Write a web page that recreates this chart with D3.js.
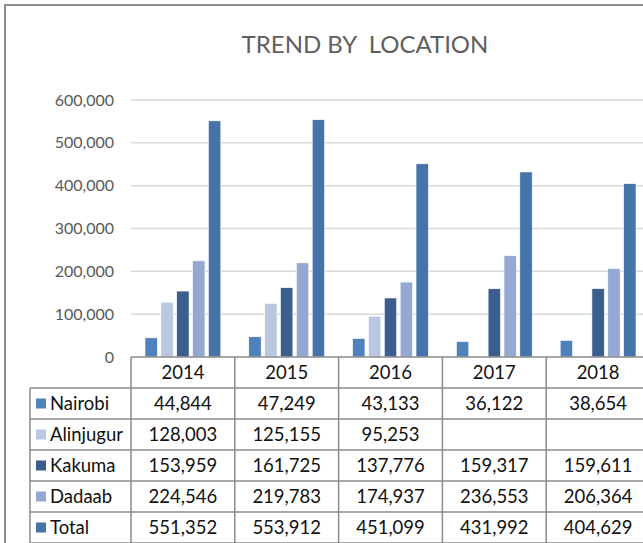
<!DOCTYPE html>
<html>
<head>
<meta charset="utf-8">
<script src="https://cdn.jsdelivr.net/npm/d3@7"></script>
<style>
  body { margin: 0; background: #fff; overflow: hidden; }
  svg { display: block; font-family: Lato, "Open Sans", sans-serif; }
</style>
</head>
<body>
<div id="chart"></div>
<script>
// data
let years = ["2014", "2015", "2016", "2017", "2018"]
let locations = ["Nairobi", "Alinjugur", "Kakuma", "Dadaab", "Total"]
let nairobi = [44844, 47249, 43133, 36122, 38654]
let alinjugur = [128003, 125155, 95253, null, null]
let kakuma = [153959, 161725, 137776, 159317, 159611]
let dadaab = [224546, 219783, 174937, 236553, 206364]
let total = [551352, 553912, 451099, 431992, 404629]
let yTicks = [0, 100000, 200000, 300000, 400000, 500000, 600000]

let seriesValues = [nairobi, alinjugur, kakuma, dadaab, total]

let color = d3.scaleOrdinal()
    .domain(locations)
    .range(["#4F81BD", "#B9C7E1", "#3B5E8F", "#95A8D1", "#4673A9"])

let width = 643,
    height = 543

let plot = { left: 131, right: 650, top: 100, bottom: 357 }
let rowH = 31
let legendLeft = 30
let cellFont = 18.5

let svg = d3.select("#chart")
    .append("svg")
    .attr("width", width)
    .attr("height", height)

// outer frame
svg.append("rect")
    .attr("x", 5)
    .attr("y", 5)
    .attr("width", 700)
    .attr("height", 600)
    .attr("fill", "none")
    .attr("stroke", "#8c8c8c")
    .attr("stroke-width", 2)

// title
svg.append("text")
    .attr("x", 365)
    .attr("y", 53)
    .attr("text-anchor", "middle")
    .attr("font-size", 24)
    .attr("fill", "#5f5f5f")
    .style("white-space", "pre")
    .text("TREND BY  LOCATION")

let xScale = d3.scaleBand()
    .domain(years)
    .range([plot.left, plot.right])

let xInner = d3.scaleBand()
    .domain(locations)
    .range([14, xScale.bandwidth() - 14])
    .paddingInner(0.22)

let yScale = d3.scaleLinear()
    .domain([0, 600000])
    .range([plot.bottom, plot.top])

// gridlines
svg.append("g")
    .selectAll("line")
    .data(yTicks.slice(1))
    .enter()
    .append("line")
    .attr("x1", plot.left)
    .attr("x2", width)
    .attr("y1", d => yScale(d))
    .attr("y2", d => yScale(d))
    .attr("stroke", "#d9d9d9")
    .attr("stroke-width", 1.5)

// y axis labels
let yAxis = d3.axisLeft(yScale)
    .tickValues(yTicks)
    .tickFormat(d3.format(","))
    .tickSize(0)
    .tickPadding(17)

let yG = svg.append("g")
    .attr("transform", "translate(" + plot.left + ",0)")
    .call(yAxis)
yG.select(".domain").remove()
yG.selectAll("text")
    .attr("font-family", "Lato, sans-serif")
    .attr("font-size", 16)
    .attr("fill", "#595959")

// bars
let groups = svg.append("g")
    .selectAll("g")
    .data(years)
    .enter()
    .append("g")
    .attr("transform", d => "translate(" + xScale(d) + ",0)")

groups.selectAll("rect")
    .data((d, i) => locations.map((loc, j) => ({ loc: loc, value: seriesValues[j][i] })))
    .enter()
    .filter(d => d.value != null)
    .append("rect")
    .attr("x", d => xInner(d.loc))
    .attr("width", xInner.bandwidth())
    .attr("y", d => yScale(d.value))
    .attr("height", d => yScale(0) - yScale(d.value))
    .attr("fill", d => color(d.loc))
    .attr("stroke", "#ffffff")
    .attr("stroke-width", 0.6)

// table
let tableStroke = "#8a8a8a"
let table = svg.append("g")
let tableBottom = plot.bottom + rowH * (locations.length + 1) - 1

// horizontal lines
table.append("line")
    .attr("x1", plot.left).attr("x2", width)
    .attr("y1", plot.bottom).attr("y2", plot.bottom)
    .attr("stroke", tableStroke).attr("stroke-width", 1.5)

for (let r = 1; r <= locations.length + 1; r++) {
    let y = plot.bottom + rowH * r
    table.append("line")
        .attr("x1", legendLeft).attr("x2", width)
        .attr("y1", y).attr("y2", y)
        .attr("stroke", tableStroke).attr("stroke-width", 1.5)
}

// vertical lines
table.append("line")
    .attr("x1", legendLeft).attr("x2", legendLeft)
    .attr("y1", plot.bottom + rowH).attr("y2", tableBottom + 2)
    .attr("stroke", tableStroke).attr("stroke-width", 1.5)

years.forEach(function (yr) {
    let x = xScale(yr)
    table.append("line")
        .attr("x1", x).attr("x2", x)
        .attr("y1", plot.bottom).attr("y2", tableBottom + 2)
        .attr("stroke", tableStroke).attr("stroke-width", 1.5)
})

// header labels
table.selectAll(".year")
    .data(years)
    .enter()
    .append("text")
    .attr("class", "year")
    .attr("x", d => xScale(d) + xScale.bandwidth() / 2)
    .attr("y", plot.bottom + rowH / 2)
    .attr("dy", "0.36em")
    .attr("text-anchor", "middle")
    .attr("font-size", cellFont)
    .attr("fill", "#111")
    .text(d => d)

// row labels with legend keys
let rows = table.selectAll(".row")
    .data(locations)
    .enter()
    .append("g")
    .attr("class", "row")
    .attr("transform", (d, i) => "translate(0," + (plot.bottom + rowH * (i + 1)) + ")")

rows.append("rect")
    .attr("x", legendLeft + 6)
    .attr("y", rowH / 2 - 5)
    .attr("width", 10)
    .attr("height", 10)
    .attr("fill", d => color(d))

rows.append("text")
    .attr("x", legendLeft + 20)
    .attr("y", rowH / 2)
    .attr("dy", "0.36em")
    .attr("font-size", cellFont)
    .attr("fill", "#111")
    .text(d => d)

rows.selectAll(".cell")
    .data((d, i) => years.map((yr, k) => ({ yr: yr, value: seriesValues[i][k] })))
    .enter()
    .filter(d => d.value != null)
    .append("text")
    .attr("class", "cell")
    .attr("x", d => xScale(d.yr) + xScale.bandwidth() / 2)
    .attr("y", rowH / 2)
    .attr("dy", "0.36em")
    .attr("text-anchor", "middle")
    .attr("font-size", cellFont)
    .attr("fill", "#111")
    .text(d => d3.format(",")(d.value))
</script>
</body>
</html>
